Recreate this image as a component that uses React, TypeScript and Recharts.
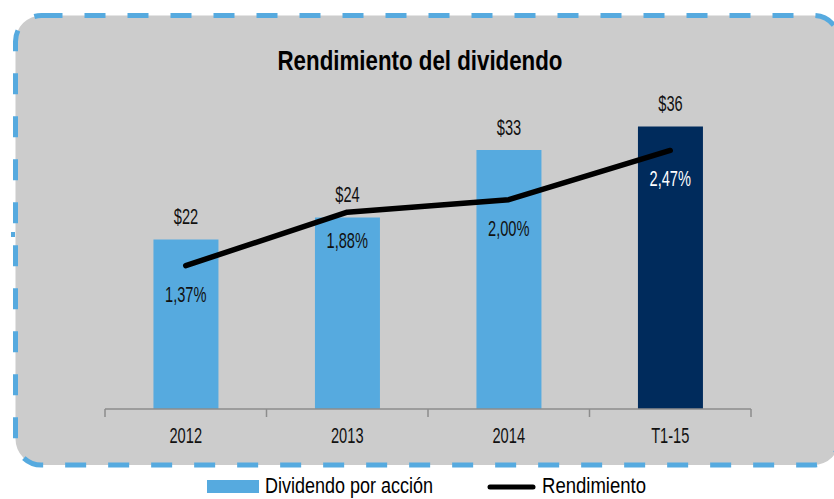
import {
  Bar,
  Cell,
  ComposedChart,
  LabelList,
  Line,
  XAxis,
  YAxis,
} from "recharts";

const categories = ["2012", "2013", "2014", "T1-15"];
const dividend = [21.6, 24.4, 33, 36];
const yieldPct = [1.37, 1.88, 2.0, 2.47];

const colors = {
  bar: "#56aadf",
  barLast: "#002b5c",
  line: "#000000",
  panel: "#cccccc",
  border: "#56aadf",
  text: "#111111",
  axis: "#8c8c8c",
};

const font = "'Liberation Sans', Arial, sans-serif";
const squeeze = 0.68;

const data = categories.map((name, i) => ({
  name,
  dividend: dividend[i],
  yield: yieldPct[i],
}));

// narrow text, to look like the condensed face of the original
const NarrowText = ({ x, y, fill = colors.text, size = 21.5, children }: any) => (
  <text
    transform={`translate(${x} ${y}) scale(${squeeze} 1)`}
    textAnchor="middle"
    fontSize={size}
    fontFamily={font}
    fill={fill}
  >
    {children}
  </text>
);

const CategoryTick = (props: any) => {
  const { x, y, payload, index } = props;
  const half = payload && payload.offset ? payload.offset : 80.75;
  return (
    <g>
      <line x1={x - half} x2={x - half} y1={y} y2={y + 8} stroke={colors.axis} strokeWidth={1.5} />
      {index === categories.length - 1 && (
        <line x1={x + half} x2={x + half} y1={y} y2={y + 8} stroke={colors.axis} strokeWidth={1.5} />
      )}
      <NarrowText x={x} y={y + 34}>
        {payload.value}
      </NarrowText>
    </g>
  );
};

const DividendLabel = (props: any) => {
  const { x, y, width, value } = props;
  return (
    <NarrowText x={x + width / 2} y={y - 15}>
      {"$" + Math.round(value)}
    </NarrowText>
  );
};

const YieldLabel = (props: any) => {
  const { x, y, value, index } = props;
  return (
    <NarrowText
      x={x}
      y={y + 36}
      fill={index === categories.length - 1 ? "#ffffff" : colors.text}
    >
      {value.toFixed(2).replace(".", ",") + "%"}
    </NarrowText>
  );
};

const App = () => {
  return (
    <div
      style={{
        position: "absolute",
        left: 0,
        top: 0,
        width: 834,
        height: 499,
        background: "#ffffff",
        overflow: "hidden",
      }}
    >
      <svg width={834} height={499} style={{ position: "absolute", left: 0, top: 0 }}>
        <rect
          x={15.5}
          y={15.5}
          width={824}
          height={449.5}
          rx={26}
          fill={colors.panel}
          stroke={colors.border}
          strokeWidth={5}
          strokeDasharray="21 22"
        />
        <rect x={11} y={232} width={4} height={5} fill={colors.border} />
        <text
          x={420}
          y={70}
          textAnchor="middle"
          fontSize={28.5}
          fontWeight={700}
          fontFamily={font}
          textLength={285}
          lengthAdjust="spacingAndGlyphs"
          fill="#000"
        >
          Rendimiento del dividendo
        </text>
      </svg>
      <div style={{ position: "absolute", left: 0, top: 0 }}>
        <ComposedChart
          width={834}
          height={499}
          data={data}
          margin={{ top: 95, right: 83, bottom: 50, left: 105 }}
          barCategoryGap="30%"
        >
          <XAxis
            dataKey="name"
            interval={0}
            height={40}
            tickSize={0}
            tickMargin={0}
            tickLine={false}
            axisLine={{ stroke: colors.axis, strokeWidth: 1.5 }}
            tick={CategoryTick}
          />
          <YAxis yAxisId="left" hide domain={[0, 40]} />
          <YAxis yAxisId="right" hide orientation="right" domain={[0, 3]} />
          <Bar yAxisId="left" dataKey="dividend" isAnimationActive={false}>
            {data.map((d, i) => (
              <Cell key={d.name} fill={i === data.length - 1 ? colors.barLast : colors.bar} />
            ))}
            <LabelList dataKey="dividend" content={DividendLabel} />
          </Bar>
          <Line
            yAxisId="right"
            dataKey="yield"
            stroke={colors.line}
            strokeWidth={5.5}
            strokeLinecap="round"
            strokeLinejoin="round"
            dot={false}
            activeDot={false}
            isAnimationActive={false}
          >
            <LabelList dataKey="yield" content={YieldLabel} />
          </Line>
        </ComposedChart>
      </div>
      <svg width={834} height={499} style={{ position: "absolute", left: 0, top: 0 }}>
        <rect x={207} y={480} width={52} height={13} fill={colors.bar} />
        <text
          x={265}
          y={493}
          fontSize={21.5}
          fontFamily={font}
          textLength={168}
          lengthAdjust="spacingAndGlyphs"
          fill="#000"
        >
          Dividendo por acción
        </text>
        <line x1={490} x2={533} y1={487} y2={487} stroke={colors.line} strokeWidth={5} strokeLinecap="round" />
        <text
          x={542}
          y={493}
          fontSize={21.5}
          fontFamily={font}
          textLength={104}
          lengthAdjust="spacingAndGlyphs"
          fill="#000"
        >
          Rendimiento
        </text>
      </svg>
    </div>
  );
};

export default App;
